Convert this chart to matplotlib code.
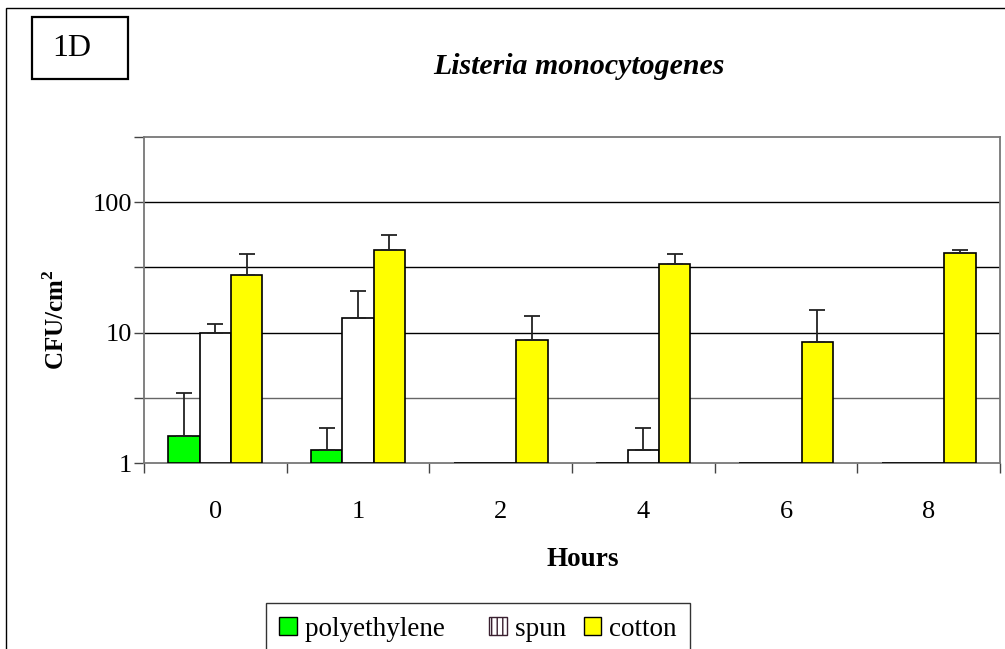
import matplotlib
matplotlib.use("Agg")
import matplotlib.pyplot as plt
import matplotlib.patches as mpatches
import numpy as np

plt.rcParams['font.family'] = ['Liberation Serif', 'DejaVu Serif']
plt.rcParams['mathtext.fontset'] = 'custom'
plt.rcParams['mathtext.rm'] = 'Liberation Serif'
plt.rcParams['mathtext.bf'] = 'Liberation Serif:bold'
plt.rcParams['hatch.linewidth'] = 1.0

hours = ["0", "1", "2", "4", "6", "8"]
series = ["polyethylene", "spun", "cotton"]
polyethylene = [1.6, 1.25, 1.0, 1.0, 1.0, 1.0]
polyethylene_err = [3.45, 1.86, 1.0, 1.0, 1.0, 1.0]
spun = [10.0, 13.0, 1.0, 1.25, 1.0, 1.0]
spun_err = [11.7, 20.7, 1.0, 1.86, 1.0, 1.0]
cotton = [27.5, 43.0, 8.8, 33.5, 8.5, 40.5]
cotton_err = [40.0, 56.5, 13.3, 40.0, 14.8, 42.7]

colors = ["#00FF00", "#FFFFFF", "#FFFF00"]

W, H = 1005, 649
fig = plt.figure(figsize=(W / 100, H / 100), dpi=100)

def fx(px):
    return px / W

def fy(py):
    return 1 - py / H

ax = fig.add_axes([fx(144), fy(463), fx(1000) - fx(144), fy(137) - fy(463)])
ax.set_yscale('log')
ax.set_ylim(1, 10 ** 2.5)

x = np.arange(len(hours))
bw = 0.22
vals = [polyethylene, spun, cotton]
errs = [polyethylene_err, spun_err, cotton_err]
for i, (v, e, c) in enumerate(zip(vals, errs, colors)):
    v = np.array(v)
    e = np.array(e)
    pos = x + (i - 1) * bw
    ax.bar(pos, v - 1, bottom=1, width=bw, color=c, edgecolor='black',
           linewidth=1.2, zorder=3)
    mask = e > v
    ax.errorbar(pos[mask], v[mask], yerr=[np.zeros(mask.sum()), (e - v)[mask]],
                fmt='none', ecolor='#222222', elinewidth=1.3, capsize=5.8,
                capthick=1.3, zorder=4)

ax.set_xlim(-0.5, len(hours) - 0.5)
ax.set_xticks(np.arange(len(hours) + 1) - 0.5)
ax.set_xticklabels([])
ax.set_xticks(x, minor=True)
ax.set_xticklabels(hours, minor=True)
ax.tick_params(axis='x', which='major', direction='out', length=7.5, width=1,
               color='#444444')
ax.tick_params(axis='x', which='minor', length=0, pad=27, labelsize=19)

yt = [10 ** (k / 2) for k in range(0, 6)]
ax.set_yticks(yt)
ax.set_yticklabels(["1", "", "10", "", "100", ""])
ax.yaxis.set_minor_locator(matplotlib.ticker.NullLocator())
ax.tick_params(axis='y', which='major', direction='out', length=7.5, width=1,
               color='#444444', labelsize=19, pad=1)
for k in range(1, 5):
    ax.axhline(10 ** (k / 2), color='black' if k != 1 else '#666666',
               linewidth=1.0, zorder=1)

for s in ax.spines.values():
    s.set_color('#777777')
    s.set_linewidth(1.3)

fig.text(fx(579), fy(67), "Listeria monocytogenes", ha='center', va='center',
         fontsize=21.5, fontweight='bold', fontstyle='italic')
fig.text(fx(583), fy(559), "Hours", ha='center', va='center', fontsize=19.5,
         fontweight='bold')
fig.text(fx(56), fy(320), r"CFU/cm$^{\mathbf{2}}$", ha='center', va='center',
         rotation=90, fontsize=18, fontweight='bold')

# outer frame
fig.patches.append(mpatches.Rectangle((fx(6), -0.2), 1.2, fy(8) + 0.2,
                                      transform=fig.transFigure, fill=False,
                                      edgecolor='black', linewidth=1.0))
# 1D box
fig.patches.append(mpatches.Rectangle((fx(32), fy(79)), fx(128) - fx(32),
                                      fy(17) - fy(79), transform=fig.transFigure,
                                      fill=False, edgecolor='black', linewidth=1.6))
fig.text(fx(72), fy(48), "1D", ha='center', va='center', fontsize=23)

handles = [
    mpatches.Patch(facecolor=colors[0], edgecolor='black', linewidth=1.0),
    mpatches.Patch(facecolor='white', edgecolor='#3a2030', linewidth=1.0, hatch='|||'),
    mpatches.Patch(facecolor=colors[2], edgecolor='black', linewidth=1.0),
]
labels = [series[0] + "     ", series[1] + " ", series[2]]
leg = fig.legend(handles, labels, loc='upper center', ncol=3,
                 bbox_to_anchor=(fx(478), fy(603)), fontsize=19.5,
                 frameon=True, fancybox=False, edgecolor='black',
                 handlelength=0.65, handleheight=0.65, handletextpad=0.3,
                 columnspacing=0.4, borderpad=0.5, borderaxespad=0)
leg.get_frame().set_linewidth(1.0)

fig.savefig("out.png", dpi=100)
